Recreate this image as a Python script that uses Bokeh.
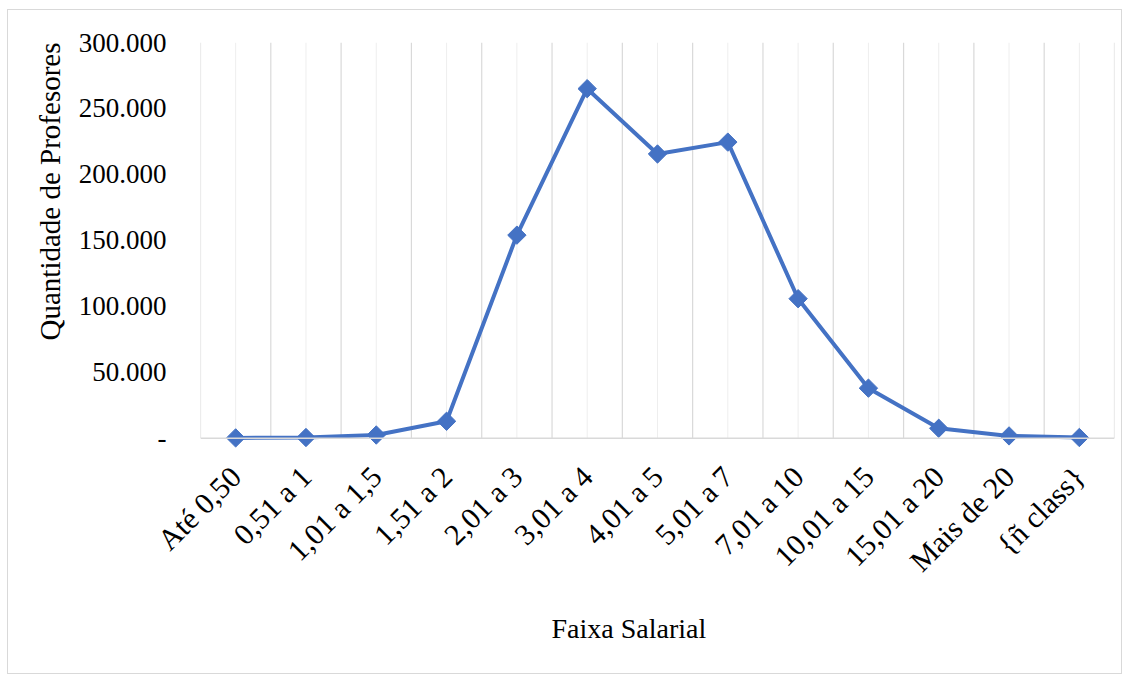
from math import pi
from bokeh.plotting import figure
from bokeh.models import Range1d, FixedTicker, Span, Title
from bokeh.embed import file_html
from bokeh.resources import INLINE

categories = ["Até 0,50", "0,51 a 1", "1,01 a 1,5", "1,51 a 2", "2,01 a 3", "3,01 a 4",
              "4,01 a 5", "5,01 a 7", "7,01 a 10", "10,01 a 15", "15,01 a 20",
              "Mais de 20", "{ñ class}"]
professores = [300, 600, 2500, 12900, 154000, 265000, 215500, 224500, 105800,
               38000, 7600, 1800, 600]
y_ticks = [0, 50000, 100000, 150000, 200000, 250000, 300000]
y_tick_labels = ["-", "50.000", "100.000", "150.000", "200.000", "250.000", "300.000"]

FONT = "Liberation Serif"
n = len(categories)
xs = list(range(n))

p = figure(width=1115, height=665, output_backend="svg", toolbar_location=None,
           x_range=Range1d(-0.5, n - 0.5), y_range=Range1d(-10000, 300000),
           min_border_left=192, min_border_right=9, min_border_top=32,
           min_border_bottom=224)
p.margin = (9, 0, 0, 7)
p.styles = {"border": "1px solid #d9d9d9"}
p.outline_line_color = None
p.background_fill_color = "white"
p.border_fill_color = "white"
p.xgrid.visible = False
p.ygrid.visible = False

# vertical gridlines: category centres (light) and boundaries (darker)
p.segment(x0=xs, x1=xs, y0=[0] * n, y1=[y_ticks[-1]] * n, line_color="#eeeeee", line_width=1)
bounds = [i - 0.5 for i in range(n + 1)]
p.segment(x0=bounds, x1=bounds, y0=[0] * len(bounds), y1=[y_ticks[-1]] * len(bounds),
          line_color="#d9d9d9", line_width=1.2)
p.add_layout(Span(location=0, dimension="width", line_color="#d9d9d9", line_width=1.5))

p.line(xs, professores, line_color="#4472C4", line_width=4)
p.scatter(xs, professores, marker="square", size=13, angle=pi / 4,
          fill_color="#4472C4", line_color="#4472C4")

xa = p.xaxis[0]
xa.ticker = FixedTicker(ticks=xs)
xa.major_label_overrides = {i: c for i, c in enumerate(categories)}
xa.major_label_orientation = pi / 4
xa.axis_line_color = None
xa.major_tick_line_color = None
xa.minor_tick_line_color = None
xa.major_label_text_font = FONT
xa.major_label_text_font_size = "30px"
xa.major_label_text_color = "black"
xa.major_label_standoff = 14

ya = p.yaxis[0]
ya.ticker = FixedTicker(ticks=y_ticks)
ya.major_label_overrides = {v: l for v, l in zip(y_ticks, y_tick_labels)}
ya.axis_line_color = None
ya.major_tick_line_color = None
ya.minor_tick_line_color = None
ya.major_label_text_font = FONT
ya.major_label_text_font_size = "27px"
ya.major_label_text_color = "black"
ya.major_label_standoff = 28

p.add_layout(Title(text="Faixa Salarial", align="left", offset=351, standoff=36,
                   text_font=FONT, text_font_size="28px", text_font_style="normal",
                   text_color="black"), "below")
p.add_layout(Title(text="Quantidade de Profesores", align="right", offset=0, standoff=20,
                   text_font=FONT, text_font_size="29px", text_font_style="normal",
                   text_color="black"), "left")

open("out.html", "w").write(file_html(p, INLINE))
